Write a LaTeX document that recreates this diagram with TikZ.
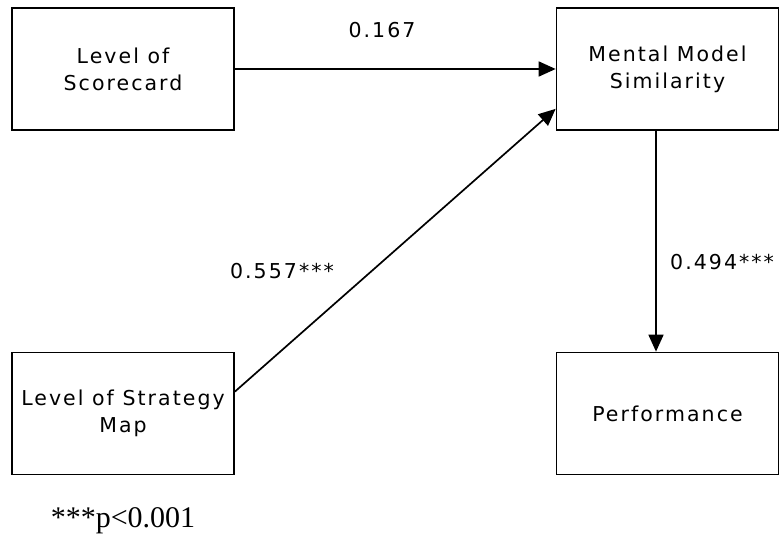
\documentclass[tikz,border=0pt]{standalone}
\usepackage{fontspec}
\usetikzlibrary{arrows.meta}
\newfontfamily\boxfont{DejaVu Sans}[LetterSpace=10]
\newfontfamily\notefont{Liberation Serif}
\begin{document}
\begin{tikzpicture}[x=1pt,y=-1pt,
  varbox/.style={draw, line width=1.7pt, minimum width=222pt, minimum height=122pt,
    inner sep=0pt, align=center, font=\boxfont\fontsize{20.5}{27}\selectfont},
  coef/.style={inner sep=0pt, font=\boxfont\fontsize{20.5}{27}\selectfont},
  path/.style={line width=1.7pt, -{Triangle[length=17pt,width=15pt]}}]
\useasboundingbox (0,0) rectangle (780,543);

\node[varbox] (score) at (123,69) {Level of\\Scorecard};
\node[varbox] (mms) at (667.5,69) {Mental Model\\Similarity};
\node[varbox] (smap) at (123,413.5) {Level of Strategy\\Map};
\node[varbox] (perf) at (667.5,413.5) {Performance};

\draw[path] (score.east) -- (mms.west);
\draw[path] ([yshift=-40pt]smap.north east) -- ([yshift=22pt]mms.south west);
\draw[path] ([xshift=-11.5pt]mms.south) -- ([xshift=-11.5pt]perf.north);

\node[coef] (c1) at (382,30) {0.167};
\node[coef] (c2) at (282,271) {0.557***};
\node[coef, anchor=west] (c3) at (670,262) {0.494***};

\node[inner sep=0pt, anchor=base, font=\notefont\fontsize{30}{34}\selectfont] (note) at (123,527) {***p<0.001};
\end{tikzpicture}
\end{document}
